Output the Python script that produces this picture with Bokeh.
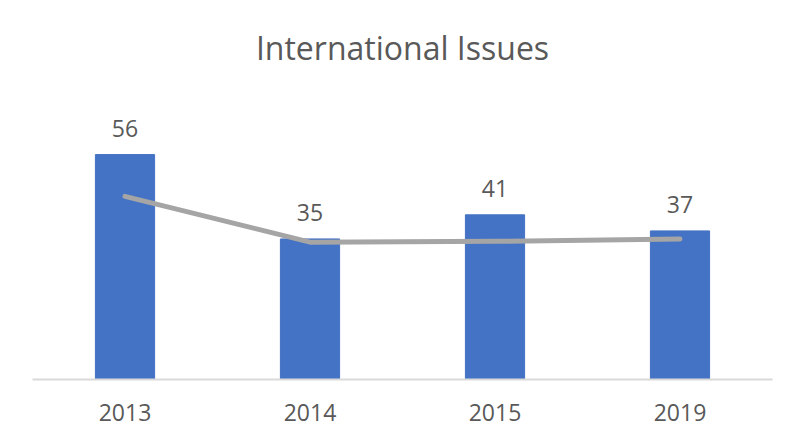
from bokeh.plotting import figure
from bokeh.models import ColumnDataSource, LabelSet, FactorRange, Range1d
from bokeh.core.properties import value
from bokeh.embed import file_html
from bokeh.resources import INLINE

years = ["2013", "2014", "2015", "2019"]
issues = [56, 35, 41, 37]
trend = [45.6, 34.2, 34.4, 35.0]
labels = [str(v) for v in issues]

src = ColumnDataSource(dict(year=years, issues=issues, trend=trend, label=labels))

p = figure(width=783, height=430, x_range=FactorRange(*years, range_padding=0),
           y_range=Range1d(0, 75.44), output_backend="svg", toolbar_location=None,
           y_axis_location=None, min_border_left=32, min_border_right=11,
           min_border_top=76, min_border_bottom=51,
           title="International Issues")

p.vbar(x="year", top="issues", width=0.32, source=src, fill_color="#4472C4",
       line_color="#4472C4")
p.line(x="year", y="trend", source=src, line_color="#A5A5A5", line_width=5,
       line_cap="round", line_join="round")

p.add_layout(LabelSet(x="year", y="issues", text="label", source=src,
                      text_align="center", text_baseline="alphabetic", y_offset=18,
                      text_font=value("Open Sans"), text_font_size=value("23px"),
                      text_color="#595959"))

p.title.align = "center"
p.title.text_font = "Open Sans"
p.title.text_font_size = "32px"
p.title.text_font_style = "normal"
p.title.text_color = "#595959"
p.title.standoff = 15

p.xaxis.axis_line_color = "#D9D9D9"
p.xaxis.axis_line_width = 2
p.xaxis.major_tick_line_color = None
p.xaxis.minor_tick_line_color = None
p.xaxis.major_label_text_font = "Open Sans"
p.xaxis.major_label_text_font_size = "23px"
p.xaxis.major_label_text_color = "#595959"
p.xaxis.major_label_standoff = 18

p.xgrid.visible = False
p.ygrid.visible = False
p.outline_line_color = None

open("out.html", "w").write(file_html(p, INLINE))
